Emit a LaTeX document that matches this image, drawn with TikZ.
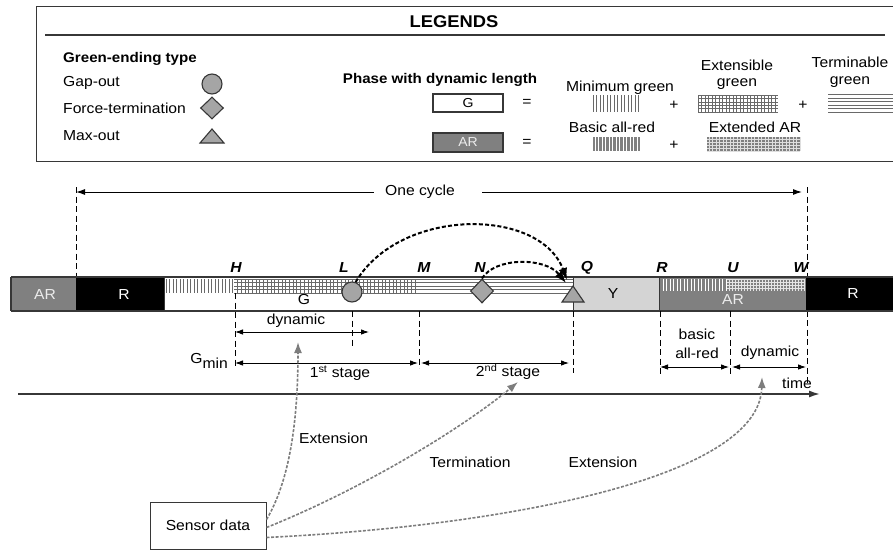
\documentclass[tikz,border=0pt]{standalone}
\usepackage{fontspec}
\setmainfont{Liberation Sans}[FakeStretch=1.08]
\usetikzlibrary{arrows.meta,shapes.geometric,calc}
\definecolor{argray}{RGB}{128,128,128}
\definecolor{ygray}{RGB}{212,212,212}
\definecolor{mkgray}{RGB}{165,165,165}
\definecolor{patgray}{RGB}{105,105,105}
\definecolor{sensgray}{RGB}{125,125,125}
\definecolor{edgec}{RGB}{55,55,55}
\newcommand{\fsz}{\fontsize{14.5}{17}\selectfont}
\begin{document}
\begin{tikzpicture}[x=1pt,y=-1pt,
  every node/.style={inner sep=0pt, font=\fsz},
  lbl/.style={font=\fsz\bfseries\itshape},
  bold/.style={font=\fontsize{14}{17}\selectfont\bfseries},
  marker/.style={draw=edgec, fill=mkgray, line width=1.1pt},
  vdash/.style={dash pattern=on 6pt off 3.5pt, line width=0.9pt},
  dimarr/.style={{Latex[length=8pt,width=5.5pt]}-{Latex[length=8pt,width=5.5pt]}, line width=0.9pt},
  endarr/.style={black, dash pattern=on 4pt off 2.2pt, line width=2pt, -{Latex[length=12pt,width=9pt]}},
  sensarr/.style={sensgray, dash pattern=on 3pt off 1.6pt, line width=1.6pt, -{Latex[length=11pt,width=8pt]}},
  pat/.style={patgray, line width=0.6pt},
  wpat/.style={white, line width=0.6pt}]
\useasboundingbox (0,0) rectangle (893,552);
\clip (0,0) rectangle (893,552);

% ---------------- Legend ----------------
\draw[edgec, line width=1pt] (36,6) rectangle (910,161);
\draw[edgec, line width=1.3pt] (45,35) -- (885,35);
\node[font=\fontsize{17}{20}\selectfont\bfseries] (legt) at (454,22) {LEGENDS};

\node[bold, anchor=west] (get) at (63,59) {Green-ending type};
\node[anchor=west] (gap) at (63,83) {Gap-out};
\node[anchor=west] (force) at (63,108) {Force-termination};
\node[anchor=west] (maxo) at (63,136) {Max-out};
\node[marker, circle, minimum size=20] (lgc) at (212,84) {};
\node[marker, diamond, minimum width=23, minimum height=22] (lgd) at (212,108) {};
\draw[marker] (212,129) -- (224,143) -- (200,143) -- cycle;

\node[bold] (pwd) at (440,80) {Phase with dynamic length};
\node[draw=edgec, line width=1.1pt, minimum width=70, minimum height=18, font=\fontsize{13}{15}\selectfont] (legG) at (468,103) {G};
\node (eq1) at (527,103) {=};
\node[draw=edgec, fill=argray, line width=1.1pt, minimum width=70, minimum height=19, text=gray!15, font=\fontsize{13}{15}\selectfont] (legAR) at (468,142.5) {AR};
\node (eq2) at (527,143) {=};

\node (mg) at (620,88) {Minimum green};
\foreach \x in {593,596.5,...,640} \draw[pat, line width=0.7pt] (\x,95) -- (\x,112);
\node (p1) at (674,105) {+};
\node (eg1) at (737,65) {Extensible};
\node (eg2) at (737,84) {green};
\foreach \x in {698,701.5,...,778} \draw[pat, line width=0.5pt] (\x,95) -- (\x,112);
\foreach \y in {95,98.4,...,112.5} \draw[pat, line width=0.5pt] (698,\y) -- (778,\y);
\node (p2) at (803,105) {+};
\node (tg1) at (850,62) {Terminable};
\node (tg2) at (850,82) {green};
\foreach \y in {94.5,98,...,112.5} \draw[pat, line width=0.7pt] (828,\y) -- (900,\y);

\node (bar1) at (612,127) {Basic all-red};
\fill[argray] (593,137) rectangle (640,151);
\foreach \x in {595,598.5,...,640} \draw[wpat, line width=0.9pt] (\x,137) -- (\x,151);
\node (p3) at (674,145) {+};
\node (ear) at (755,127) {Extended AR};
\fill[argray] (707,137) rectangle (800,151);
\foreach \x in {709,712.5,...,800} \draw[gray!25, line width=0.4pt] (\x,137) -- (\x,151);
\foreach \y in {139,142,...,151} \draw[gray!25, line width=0.4pt] (707,\y) -- (800,\y);

% ---------------- One cycle ----------------
\node (cyc) at (420,192) {One cycle};
\coordinate (cycL) at (76,192);
\coordinate (cycR) at (802,192);
\draw[line width=1pt, -{Latex[length=9pt,width=6pt]}] ($(cyc.west)+(-11,0)$) -- (cycL);
\draw[line width=1pt, -{Latex[length=9pt,width=6pt]}] ($(cyc.east)+(27,0)$) -- (cycR);
\draw[vdash] (76,187) -- (76,277);
\draw[vdash] (807,187) -- (807,384);

% ---------------- Signal bar ----------------
\fill[argray] (11,277) rectangle (76,311);
\fill[black] (76,277) rectangle (164,311);
\fill[white] (164,277) rectangle (573,311);
\fill[ygray] (573,277) rectangle (659,311);
\fill[argray] (659,277) rectangle (806,311);
\fill[black] (806,277) rectangle (900,311);
% green patterns
\foreach \x in {166,169.5,...,234} \draw[pat] (\x,279) -- (\x,293);
\foreach \x in {237.5,241.2,...,417} \draw[pat, line width=0.45pt] (\x,279) -- (\x,293);
\foreach \y in {279,282.5,...,293.5} \draw[pat, line width=0.45pt] (234,\y) -- (417,\y);
\foreach \y in {279,282.5,...,293.5} \draw[pat, line width=0.55pt] (417,\y) -- (573,\y);
% AR patterns
\foreach \x in {663,666.5,...,727} \draw[wpat, line width=0.9pt] (\x,279) -- (\x,291);
\foreach \x in {729,732,...,805} \draw[white!80!gray, line width=0.45pt] (\x,279) -- (\x,291);
\foreach \y in {279.5,282.5,...,291} \draw[white!80!gray, line width=0.45pt] (727,\y) -- (805,\y);
% outline
\draw[edgec, line width=1.2pt] (11,277) -- (900,277) (11,311) -- (900,311) (11,277) -- (11,311);
\draw[edgec, line width=1pt] (164,277) -- (164,311) (573,277) -- (573,311) (659,277) -- (659,311);

\node[text=gray!15] (ar1) at (45,295) {AR};
\node[text=white] (r1) at (124,295) {R};
\node (gtxt) at (304,300) {G};
\node (ytxt) at (613,294) {Y};
\node[text=gray!15] (ar2) at (733,300) {AR};
\node[text=white] (r2) at (853,294) {R};

% point labels
\node[lbl] (lH) at (236,268) {H};
\node[lbl] (lL) at (344,268) {L};
\node[lbl] (lM) at (424,268) {M};
\node[lbl] (lN) at (480,268) {N};
\node[lbl] (lQ) at (587,268) {Q};
\node[lbl] (lR) at (662,268) {R};
\node[lbl] (lU) at (733,268) {U};
\node[lbl] (lW) at (801,268) {W};

% markers
\node[marker, circle, minimum size=20] (gapc) at (352,292) {};
\node[marker, diamond, minimum width=23, minimum height=24] (ftd) at (482,291) {};
\draw[marker] (573,286) -- (584,302) -- (562,302) -- cycle;
\coordinate (qtip1) at (567,280);
\coordinate (qtip2) at (566,283);

\draw[endarr] (gapc.70) .. controls (400,207) and (540,207) .. (qtip1);
\draw[endarr] (ftd.north) .. controls (495,257) and (545,257) .. (qtip2);

% ---------------- Dimension lines ----------------
\draw[vdash] (235,293) -- (235,368);
\draw[vdash] (352,311) -- (352,347);
\draw[vdash] (419,311) -- (419,368);
\draw[vdash] (573,311) -- (573,373);
\draw[vdash] (660,311) -- (660,374);
\draw[vdash] (730,311) -- (730,377);

\coordinate (dA) at (235,332);
\coordinate (dB) at (369,332);
\draw[dimarr] (dA) -- (dB);
\node (dyn1) at (296,321) {dynamic};

\coordinate (s1a) at (235,363);
\coordinate (s1b) at (418,363);
\coordinate (s2a) at (421,363);
\coordinate (s2b) at (569,363);
\draw[dimarr] (s1a) -- (s1b);
\draw[dimarr] (s2a) -- (s2b);
\node (st1) at (340,373) {1\textsuperscript{st} stage};
\node (st2) at (508,372) {2\textsuperscript{nd} stage};
\node[anchor=east] (gmin) at (228,361) {G\raisebox{-4.5pt}{min}};

\coordinate (ba) at (660,367);
\coordinate (bb) at (729,367);
\coordinate (da) at (732,367);
\coordinate (db) at (806,367);
\draw[dimarr] (ba) -- (bb);
\draw[dimarr] (da) -- (db);
\node (basic) at (697,334) {basic};
\node (allred) at (697,353) {all-red};
\node (dyn2) at (770,353) {dynamic};

% time axis
\coordinate (t0) at (18,394);
\coordinate (t1) at (820,394);
\draw[edgec, line width=1.6pt, -{Latex[length=11pt,width=7pt]}] (t0) -- (t1);
\node (time) at (797,383) {time};

% ---------------- Sensor data ----------------
\node[draw=edgec, line width=1pt, minimum width=116, minimum height=47] (sens) at (208,525.5) {Sensor data};
\coordinate (e1) at (298,342);
\coordinate (e2) at (518,382);
\coordinate (e3) at (762,377);
\draw[sensarr] ($(sens.east)+(0,-6)$) .. controls (290,480) and (298,420) .. (e1);
\draw[sensarr] ($(sens.east)+(0,2)$) .. controls (360,490) and (460,430) .. (e2);
\draw[sensarr] ($(sens.east)+(0,12)$) .. controls (520,525) and (760,475) .. (e3);
\node[anchor=west] (ext1) at (299,438) {Extension};
\node (term) at (470,462) {Termination};
\node (ext2) at (603,462) {Extension};
\end{tikzpicture}
\end{document}
